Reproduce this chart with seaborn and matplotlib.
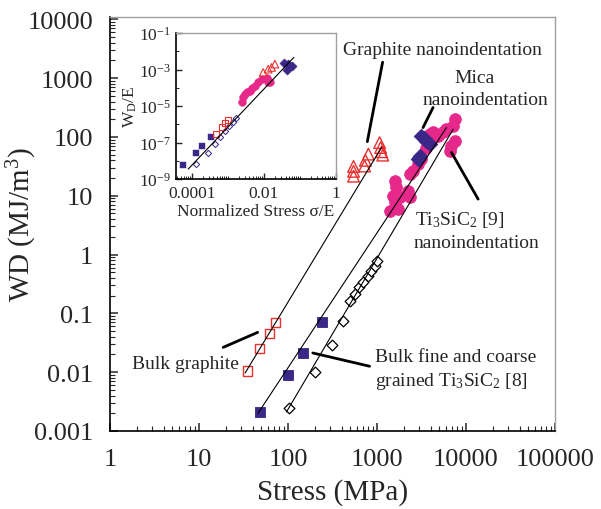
import numpy as np
import seaborn as sns
import matplotlib.pyplot as plt
import matplotlib.ticker as mticker

# ---- main plot data (Stress MPa, WD MJ/m3) ----
bg_stress = [35, 48, 62, 72]                       # bulk graphite
bg_wd = [0.0105, 0.025, 0.045, 0.07]
bt_stress = [49, 99, 146, 242]                      # bulk Ti3SiC2 (filled squares)
bt_wd = [0.0021, 0.0091, 0.021, 0.072]
bd_stress = [102, 203, 310, 410, 491, 560, 626, 694, 790, 862, 939, 997]   # open diamonds
bd_wd = [0.0025, 0.0099, 0.029, 0.073, 0.16, 0.21, 0.28, 0.34, 0.43, 0.53, 0.64, 0.78]
gn_stress = [545, 545, 545, 725, 740, 800, 1070, 1100, 1130, 1160]       # graphite nanoindentation
gn_wd = [21.5, 26, 31.5, 32, 40, 51, 80, 66, 56, 49]
tn_stress = [1578, 1649, 1510, 1578, 1387, 1719, 1798, 2230, 2330, 2330, 2537, 2888,
             3155, 3590, 3909, 4263, 4856, 5523, 6030, 7148, 7476, 6866, 6574, 7476]
tn_wd = [17.9, 13.8, 10, 7.7, 5.5, 5.9, 9.35, 12.1, 9.35, 23.3, 26.5, 34.4,
         41.8, 66, 111, 119, 104, 119, 135, 154, 200, 70.3, 57.8, 85.5]
mn_stress = [3155, 3400, 3590, 3909, 3020, 2950, 2888]                    # mica nanoindentation
mn_wd = [104, 95, 85.5, 75.2, 47.6, 44, 41.8]

fit_g_x = [33, 1130]
fit_g_y = [0.0097, 67]
fit_b_x = [46, 6030]
fit_b_y = [0.002, 144]
fit_d_x = [96, 7160]
fit_d_y = [0.0021, 135]

x_ticks = [1, 10, 100, 1000, 10000, 100000]
y_ticks = [0.001, 0.01, 0.1, 1, 10, 100, 1000, 10000]

# ---- inset data (sigma/E, WD/E) ----
i_bt_x = [5.85e-5, 1.29e-4, 1.97e-4, 3.36e-4]
i_bt_y = [6.1e-9, 2.6e-8, 6.2e-8, 2.1e-7]
i_bd_x = [1.31e-4, 2.88e-4, 4.41e-4, 6.08e-4, 8.36e-4, 1.1e-3, 1.42e-3, 1.66e-3]
i_bd_y = [6.6e-9, 2.7e-8, 8.3e-8, 2.1e-7, 4.4e-7, 8.3e-7, 1.3e-6, 2.1e-6]
i_bg_x = [4.7e-4, 6.8e-4, 8.4e-4, 1.03e-3]
i_bg_y = [2.8e-7, 6.8e-7, 1.13e-6, 1.77e-6]
i_tn_x = [2.43e-3, 2.69e-3, 2.99e-3, 3.34e-3, 4.12e-3, 4.59e-3, 5.66e-3, 7.0e-3,
          8.69e-3, 1.2e-2, 1.27e-2, 1.48e-2]
i_tn_y = [1.6e-5, 3.0e-5, 4.55e-5, 5.6e-5, 6.9e-5, 9.3e-5, 1.3e-4, 2.0e-4,
          3.0e-4, 3.7e-4, 2.15e-4, 2.15e-4]
i_gn_x = [9.6e-3, 1.32e-2, 1.64e-2, 2.03e-2]
i_gn_y = [7.0e-4, 1.06e-3, 1.32e-3, 2.0e-3]
i_mn_x = [3.67e-2, 4.28e-2, 5.89e-2, 4.75e-2]
i_mn_y = [2.27e-3, 9.75e-4, 1.5e-3, 2.0e-3]
i_fit_x = [8.0e-5, 6.8e-2]
i_fit_y = [3.5e-9, 4.7e-3]
i_x_ticks = [1e-4, 1e-2, 1]
i_x_labels = ['0.0001', '0.01', '1']
i_y_ticks = [1e-9, 1e-7, 1e-5, 1e-3, 1e-1]
i_y_labels = ['10$^{-9}$', '10$^{-7}$', '10$^{-5}$', '10$^{-3}$', '10$^{-1}$']

RED = '#e8302e'
PINK = '#e6288a'
NAVY = '#3b2787'

sns.set_style('ticks')
plt.rcParams['font.family'] = ['Liberation Serif', 'DejaVu Serif']
plt.rcParams['mathtext.fontset'] = 'custom'
plt.rcParams['mathtext.rm'] = 'Liberation Serif'
plt.rcParams['mathtext.it'] = 'Liberation Serif:italic'

fig = plt.figure(figsize=(6.01, 5.10), dpi=100)
ax = fig.add_axes([0.183, 0.153, 0.7405, 0.812])
ax.set_xscale('log')
ax.set_yscale('log')

for fx, fy in [(fit_g_x, fit_g_y), (fit_b_x, fit_b_y), (fit_d_x, fit_d_y)]:
    sns.lineplot(x=fx, y=fy, color='k', lw=0.8, ax=ax)

sns.scatterplot(x=bg_stress, y=bg_wd, marker='s', s=45, facecolor='none',
                edgecolor=RED, linewidth=1.0, ax=ax)
sns.scatterplot(x=bt_stress, y=bt_wd, marker='s', s=60, color=NAVY,
                edgecolor=NAVY, ax=ax)
sns.scatterplot(x=bd_stress, y=bd_wd, marker='D', s=30, facecolor='white',
                edgecolor='k', linewidth=0.9, ax=ax)
sns.scatterplot(x=gn_stress, y=gn_wd, marker='^', s=70, facecolor='none',
                edgecolor=RED, linewidth=1.0, ax=ax)
sns.scatterplot(x=tn_stress, y=tn_wd, marker='o', s=70, color=PINK,
                edgecolor=PINK, ax=ax)
sns.scatterplot(x=mn_stress, y=mn_wd, marker='D', s=55, color=NAVY,
                edgecolor=NAVY, ax=ax)

ax.set_xlim(1, 1e5)
ax.set_ylim(1e-3, 1.1e4)
fmt = mticker.FuncFormatter(lambda v, p: f'{v:g}')
ax.xaxis.set_major_locator(mticker.FixedLocator(x_ticks))
ax.yaxis.set_major_locator(mticker.FixedLocator(y_ticks))
ax.xaxis.set_major_formatter(fmt)
ax.yaxis.set_major_formatter(fmt)
ax.xaxis.set_minor_locator(mticker.LogLocator(base=10, subs=np.arange(2, 10), numticks=100))
ax.yaxis.set_minor_locator(mticker.LogLocator(base=10, subs=np.arange(2, 10), numticks=100))
ax.xaxis.set_minor_formatter(mticker.NullFormatter())
ax.yaxis.set_minor_formatter(mticker.NullFormatter())
ax.tick_params(which='major', direction='in', length=6, width=1.1, labelsize=19, pad=12,
               top=False, right=False)
ax.tick_params(which='minor', direction='in', length=3.5, width=0.8, top=False, right=False)
for s in ['left', 'bottom']:
    ax.spines[s].set_color('k')
    ax.spines[s].set_linewidth(1.2)
for s in ['top', 'right']:
    ax.spines[s].set_color('#a0a0a0')
    ax.spines[s].set_linewidth(1.0)

ax.set_xlabel('Stress (MPa)', fontsize=21, labelpad=6)
ax.set_ylabel('WD (MJ/m$^3$)', fontsize=21)
ax.yaxis.set_label_coords(-0.16, 0.5)

# annotations
lead = dict(arrowstyle='-', lw=2, color='k', shrinkA=0, shrinkB=0)
ax.annotate('', xy=(778, 83), xytext=(1156, 1862), arrowprops=lead)
ax.annotate('', xy=(3289, 144), xytext=(4263, 316), arrowprops=lead)
ax.annotate('', xy=(6866, 54.3), xytext=(13680, 8.75), arrowprops=lead)
ax.annotate('', xy=(45.6, 0.0475), xytext=(18.7, 0.0264), arrowprops=lead)
ax.annotate('', xy=(190, 0.0212), xytext=(826, 0.0126), arrowprops=lead)

tk = dict(fontsize=14, va='center', ha='left')
ax.text(410, 3100, 'Graphite nanoindentation', **tk)
ax.text(7480, 1035, 'Mica', **tk)
ax.text(3265, 437, 'nanoindentation', **tk)
ax.text(2650, 4.0, 'Ti$_3$SiC$_2$ [9]', **tk)
ax.text(2585, 1.63, 'nanoindentation', **tk)
ax.text(1.77, 0.0138, 'Bulk graphite', **tk)
ax.text(940, 0.0188, 'Bulk fine and coarse', **tk)
ax.text(940, 0.00708, 'grained Ti$_3$SiC$_2$ [8]', **tk)

# ---- inset ----
ins = fig.add_axes([0.293, 0.647, 0.266, 0.286])
ins.set_xscale('log')
ins.set_yscale('log')
sns.lineplot(x=i_fit_x, y=i_fit_y, color='k', lw=0.8, ax=ins)
sns.scatterplot(x=i_bt_x, y=i_bt_y, marker='s', s=14, color=NAVY, edgecolor=NAVY, ax=ins)
sns.scatterplot(x=i_bd_x, y=i_bd_y, marker='D', s=10, facecolor='white',
                edgecolor=NAVY, linewidth=0.7, ax=ins)
sns.scatterplot(x=i_bg_x, y=i_bg_y, marker='s', s=18, facecolor='none',
                edgecolor=RED, linewidth=0.8, ax=ins)
sns.scatterplot(x=i_tn_x, y=i_tn_y, marker='o', s=30, color=PINK, edgecolor=PINK, ax=ins)
sns.scatterplot(x=i_gn_x, y=i_gn_y, marker='^', s=30, facecolor='none',
                edgecolor=RED, linewidth=0.8, ax=ins)
sns.scatterplot(x=i_mn_x, y=i_mn_y, marker='D', s=22, color=NAVY, edgecolor=NAVY, ax=ins)

ins.set_xlim(3.7e-5, 1)
ins.set_ylim(1e-9, 1e-1)
ins.xaxis.set_major_locator(mticker.FixedLocator(i_x_ticks))
ins.xaxis.set_major_formatter(mticker.FixedFormatter(i_x_labels))
ins.yaxis.set_major_locator(mticker.FixedLocator(i_y_ticks))
ins.yaxis.set_major_formatter(mticker.FixedFormatter(i_y_labels))
ins.xaxis.set_minor_locator(mticker.LogLocator(base=10, subs=np.arange(1, 10), numticks=100))
ins.yaxis.set_minor_locator(mticker.LogLocator(base=10, subs=(1.0,), numticks=100))
ins.xaxis.set_minor_formatter(mticker.NullFormatter())
ins.yaxis.set_minor_formatter(mticker.NullFormatter())
ins.tick_params(which='major', direction='in', length=4, width=1, labelsize=12.5, pad=4,
                top=False, right=False)
ins.tick_params(which='minor', direction='in', length=2.5, width=0.7, top=False, right=False)
for s in ['left', 'bottom']:
    ins.spines[s].set_color('k')
    ins.spines[s].set_linewidth(1.2)
for s in ['top', 'right']:
    ins.spines[s].set_color('#a0a0a0')
    ins.spines[s].set_linewidth(1.0)
ins.set_xlabel('Normalized Stress σ/E', fontsize=12.5, labelpad=2)
ins.set_ylabel('W$_\\mathrm{D}$/E', fontsize=12.5)
ins.yaxis.set_label_coords(-0.235, 0.5)

fig.savefig('out.png', dpi=100)
